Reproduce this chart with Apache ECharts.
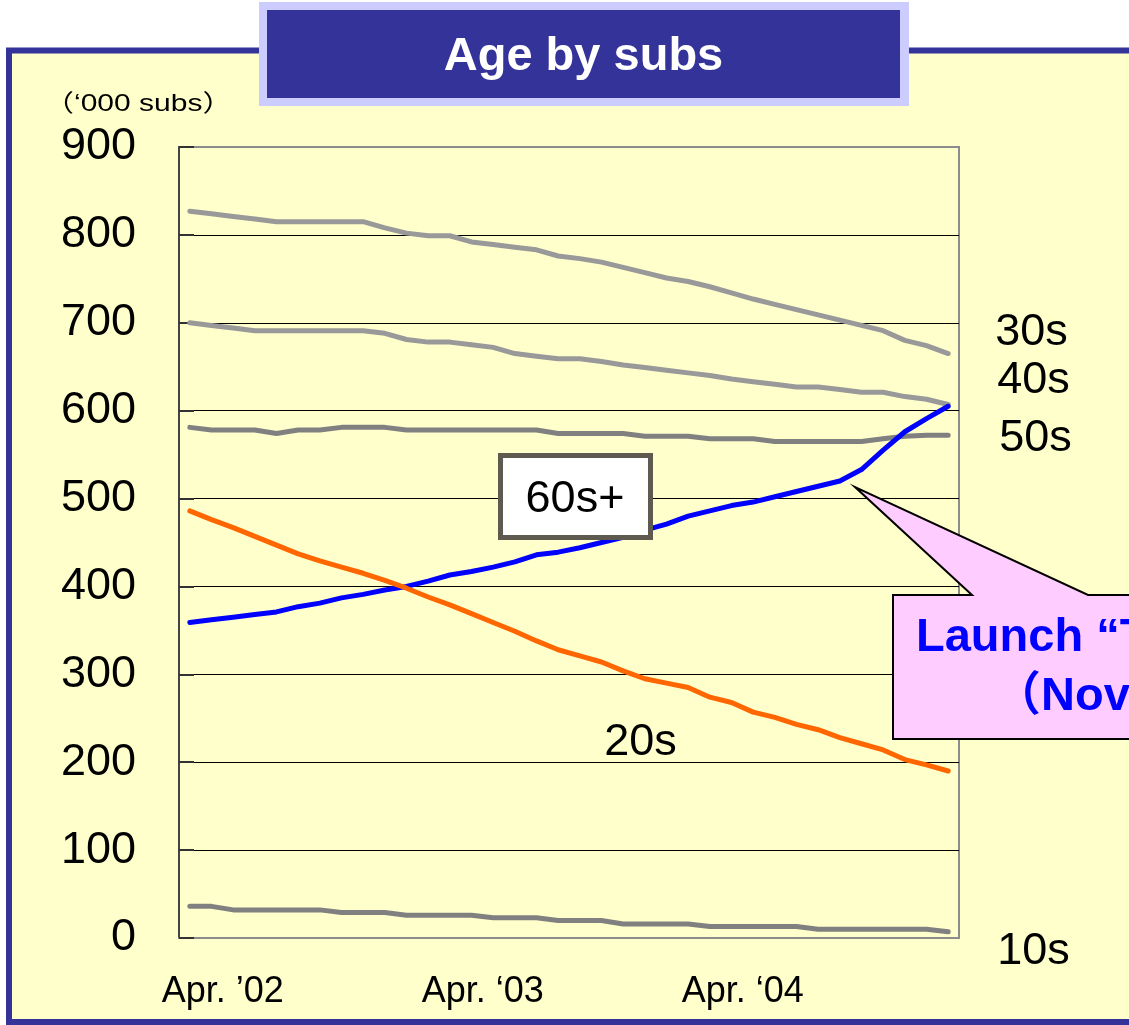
<!DOCTYPE html>
<html>
<head>
<meta charset="utf-8">
<script src="https://cdn.jsdelivr.net/npm/echarts@6/dist/echarts.min.js"></script>
<style>
html,body{margin:0;padding:0;background:#fff;}
#c{width:1129px;height:1025px;}
</style>
</head>
<body>
<div id="c"></div>
<script>
// ---- data ----
const categories = ['Apr 02','May 02','Jun 02','Jul 02','Aug 02','Sep 02','Oct 02','Nov 02','Dec 02','Jan 03','Feb 03','Mar 03',
  'Apr 03','May 03','Jun 03','Jul 03','Aug 03','Sep 03','Oct 03','Nov 03','Dec 03','Jan 04','Feb 04','Mar 04',
  'Apr 04','May 04','Jun 04','Jul 04','Aug 04','Sep 04','Oct 04','Nov 04','Dec 04','Jan 05','Feb 05','Mar 05'];
const tickLabels = ['Apr. \u201902', 'Apr. \u201803', 'Apr. \u201804'];
const s30 = [827,824,821,818,815,815,815,815,815,808,802,799,799,792,789,786,783,776,773,769,763,757,751,747,741,734,727,721,715,709,703,697,691,680,674,665];
const s40 = [700,697,694,691,691,691,691,691,691,688,681,678,678,675,672,665,662,659,659,656,652,649,646,643,640,636,633,630,627,627,624,621,621,616,613,607];
const s50 = [581,578,578,578,574,578,578,581,581,581,578,578,578,578,578,578,578,574,574,574,574,571,571,571,568,568,568,565,565,565,565,565,568,571,572,572];
const s60 = [359,362,365,368,371,377,381,387,391,396,400,406,413,417,422,428,436,439,444,450,456,464,471,480,486,492,496,502,508,514,520,533,555,576,591,605];
const s20 = [486,476,467,457,447,437,429,422,415,407,398,388,379,369,359,349,338,328,321,314,304,295,290,285,274,268,257,251,243,237,228,221,214,203,197,190];
const s10 = [36,36,32,32,32,32,32,29,29,29,26,26,26,26,23,23,23,20,20,20,16,16,16,16,13,13,13,13,13,10,10,10,10,10,10,7];

const FONT = '"Liberation Sans", Arial, "Noto Sans CJK JP", sans-serif';

function endLbl(name, dx, dy) {
  return {show: true, formatter: name, distance: 0, offset: [dx, dy], align: 'left', verticalAlign: 'middle',
    fontSize: 45, color: '#000', fontFamily: FONT};
}
function line(name, data, color, extra) {
  return Object.assign({
    name: name, type: 'line', data: data, showSymbol: false, symbol: 'none', smooth: false,
    lineStyle: {color: color, width: 5, cap: 'round', join: 'round'}, itemStyle: {color: color},
    emphasis: {disabled: true}, silent: true
  }, extra || {});
}

const chart = echarts.init(document.getElementById('c'), null, {renderer: 'canvas'});
chart.setOption({
  backgroundColor: '#ffffff',
  animation: false,
  grid: {left: 179, top: 147, width: 780, height: 791, show: true, borderColor: '#8c8c8c', borderWidth: 2, backgroundColor: 'transparent'},
  xAxis: {
    type: 'category', data: categories, boundaryGap: true,
    axisLine: {show: true, lineStyle: {color: '#8c8c8c', width: 2}},
    axisTick: {show: false},
    splitLine: {show: false},
    axisLabel: {
      interval: function (i) { return i % 12 === 0; },
      formatter: function (v, i) { return '{a|' + tickLabels[Math.round(i / 12)] + '}'; },
      margin: 36,
      rich: {a: {fontSize: 36, color: '#000', fontFamily: FONT, padding: [0, 0, 0, 66]}}
    }
  },
  yAxis: {
    type: 'value', min: 0, max: 900, interval: 100,
    axisLine: {show: true, lineStyle: {color: '#444', width: 2}},
    axisTick: {show: true, inside: true, length: 15, lineStyle: {color: '#333', width: 2}},
    splitLine: {show: true, showMinLine: false, showMaxLine: false, lineStyle: {color: '#000', width: 1}},
    axisLabel: {fontSize: 45, color: '#000', fontFamily: FONT, margin: 43}
  },
  series: [
    line('30s', s30, '#999999', {endLabel: endLbl('30s', 47, -21)}),
    line('40s', s40, '#999999', {endLabel: endLbl('40s', 49, -24)}),
    line('50s', s50, '#808080', {endLabel: endLbl('50s', 51, 3)}),
    line('10s', s10, '#808080', {endLabel: endLbl('10s', 49, 20)}),
    line('60s+', s60, '#0000ff'),
    line('20s', s20, '#ff6600')
  ],
  graphic: {elements: [
    // outer frame
    {type: 'rect', z: -10, shape: {x: 9, y: 50.5, width: 1200, height: 971.5},
      style: {fill: '#ffffcc', stroke: '#333399', lineWidth: 6}},
    // title box
    {type: 'rect', z: 50, shape: {x: 259, y: 2, width: 650, height: 104}, style: {fill: '#ccccff'}},
    {type: 'rect', z: 51, shape: {x: 267, y: 10, width: 633, height: 88}, style: {fill: '#333399'}},
    {type: 'text', z: 52, style: {text: 'Age by subs', x: 583.5, y: 57, align: 'center', verticalAlign: 'middle',
      fill: '#ffffff', font: 'bold 47px ' + FONT}},
    // unit
    {type: 'text', z: 52, x: 44, y: 104, scaleX: 1.25, scaleY: 1,
      style: {text: '\uff08\u2018000 subs\uff09', x: 0, y: 0, align: 'left', verticalAlign: 'middle',
      fill: '#000', font: '24px ' + FONT}},
    // 60s+ box
    {type: 'rect', z: 60, shape: {x: 500.5, y: 455.5, width: 150, height: 82},
      style: {fill: '#ffffff', stroke: '#5f5a50', lineWidth: 5}},
    {type: 'text', z: 61, style: {text: '60s+', x: 575, y: 500, align: 'center', verticalAlign: 'middle',
      fill: '#000', font: '45px ' + FONT}},
    // 20s label
    {type: 'text', z: 61, style: {text: '20s', x: 640.5, y: 743, align: 'center', verticalAlign: 'middle',
      fill: '#000', font: '45px ' + FONT}},
    // callout
    {type: 'polygon', z: 60, shape: {points: [[893, 595], [972, 595], [855, 487], [1088, 595], [1200, 595], [1200, 739], [893, 739]]},
      style: {fill: '#ffccff', stroke: '#000', lineWidth: 2}},
    {type: 'text', z: 61, style: {text: 'Launch \u201cTu-Ka S\u201d', x: 916, y: 638, align: 'left', verticalAlign: 'middle',
      fill: '#0000ff', font: 'bold 47px ' + FONT}},
    {type: 'text', z: 61, style: {text: '\uff08Nov. 2004\uff09', x: 994, y: 697, align: 'left', verticalAlign: 'middle',
      fill: '#0000ff', font: 'bold 47px ' + FONT}}
  ]}
});
</script>
</body>
</html>
